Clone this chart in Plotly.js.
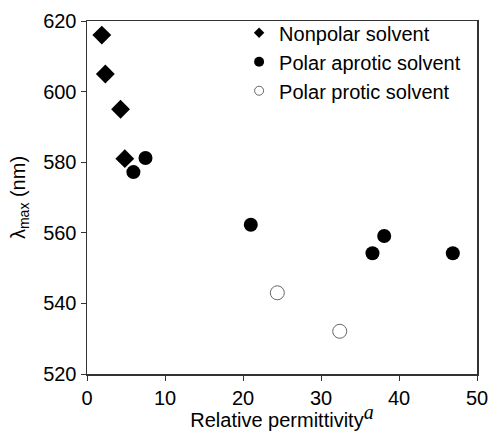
<!DOCTYPE html>
<html>
<head>
<meta charset="utf-8">
<script src="https://cdn.plot.ly/plotly-3.0.1.min.js"></script>
<style>html,body{margin:0;padding:0;background:#fff;}#chart{width:490px;height:431px;}</style>
</head>
<body>
<div id="chart"></div>
<script>
// Nonpolar solvents
const nonpolarX = [1.9, 2.35, 4.3, 4.85];
const nonpolarY = [616, 605, 595, 581];
// Polar aprotic solvents
const aproticX = [5.95, 7.5, 21.0, 36.6, 38.1, 46.9];
const aproticY = [577.2, 581.2, 562.3, 554.2, 559.1, 554.2];
// Polar protic solvents
const proticX = [24.4, 32.4];
const proticY = [543.0, 532.1];

const seriesNames = ["Nonpolar solvent", "Polar aprotic solvent", "Polar protic solvent"];
const xTickVals = [0, 10, 20, 30, 40, 50];
const yTickVals = [520, 540, 560, 580, 600, 620];

const FONT = "Arial, 'Liberation Sans', sans-serif";

const traces = [
  {x: nonpolarX, y: nonpolarY, mode: "markers", type: "scatter", showlegend: false,
   marker: {symbol: "diamond", size: 14.5, color: "#000"}},
  {x: aproticX, y: aproticY, mode: "markers", type: "scatter", showlegend: false,
   marker: {symbol: "circle", size: 14, color: "#000"}},
  {x: proticX, y: proticY, mode: "markers", type: "scatter", showlegend: false,
   marker: {symbol: "circle", size: 14, color: "#fff", line: {color: "#666", width: 1}}},
  // legend entries
  {x: [null], y: [null], mode: "markers", type: "scatter", name: seriesNames[0],
   marker: {symbol: "diamond", size: 8, color: "#000"}},
  {x: [null], y: [null], mode: "markers", type: "scatter", name: seriesNames[1],
   marker: {symbol: "circle", size: 10, color: "#000"}},
  {x: [null], y: [null], mode: "markers", type: "scatter", name: seriesNames[2],
   marker: {symbol: "circle", size: 9, color: "#fff", line: {color: "#666", width: 1}}}
];

const layout = {
  width: 490, height: 431,
  margin: {l: 87, r: 13, t: 21, b: 57, pad: 0},
  paper_bgcolor: "#fff", plot_bgcolor: "#fff",
  font: {family: FONT, size: 20, color: "#000"},
  showlegend: true,
  legend: {x: 0.39, y: 1.022, xanchor: "left", yanchor: "top",
           font: {family: FONT, size: 20, color: "#000"}, bgcolor: "rgba(0,0,0,0)",
           itemwidth: 30},
  xaxis: {
    range: [0, 50], tickvals: xTickVals, ticks: "outside", ticklen: 5, tickwidth: 1,
    tickcolor: "#333", showline: true, linecolor: "#333", linewidth: 1.5, mirror: true,
    showgrid: false, zeroline: false, tickfont: {size: 20},
    title: {text: "Relative permittivity<sup><i style=\"font-family:'Liberation Serif','Times New Roman',serif;font-size:20px\">a</i></sup>",
            font: {size: 20}, standoff: 4}
  },
  yaxis: {
    range: [520, 620], tickvals: yTickVals, ticks: "outside", ticklen: 5, tickwidth: 1,
    tickcolor: "#333", showline: true, linecolor: "#333", linewidth: 1.5, mirror: true,
    showgrid: false, zeroline: false, tickfont: {size: 20},
    title: {text: "λ<sub>max</sub> (nm)", font: {size: 20}, standoff: 12}
  }
};

Plotly.newPlot("chart", traces, layout, {displayModeBar: false, staticPlot: true});
</script>
</body>
</html>
